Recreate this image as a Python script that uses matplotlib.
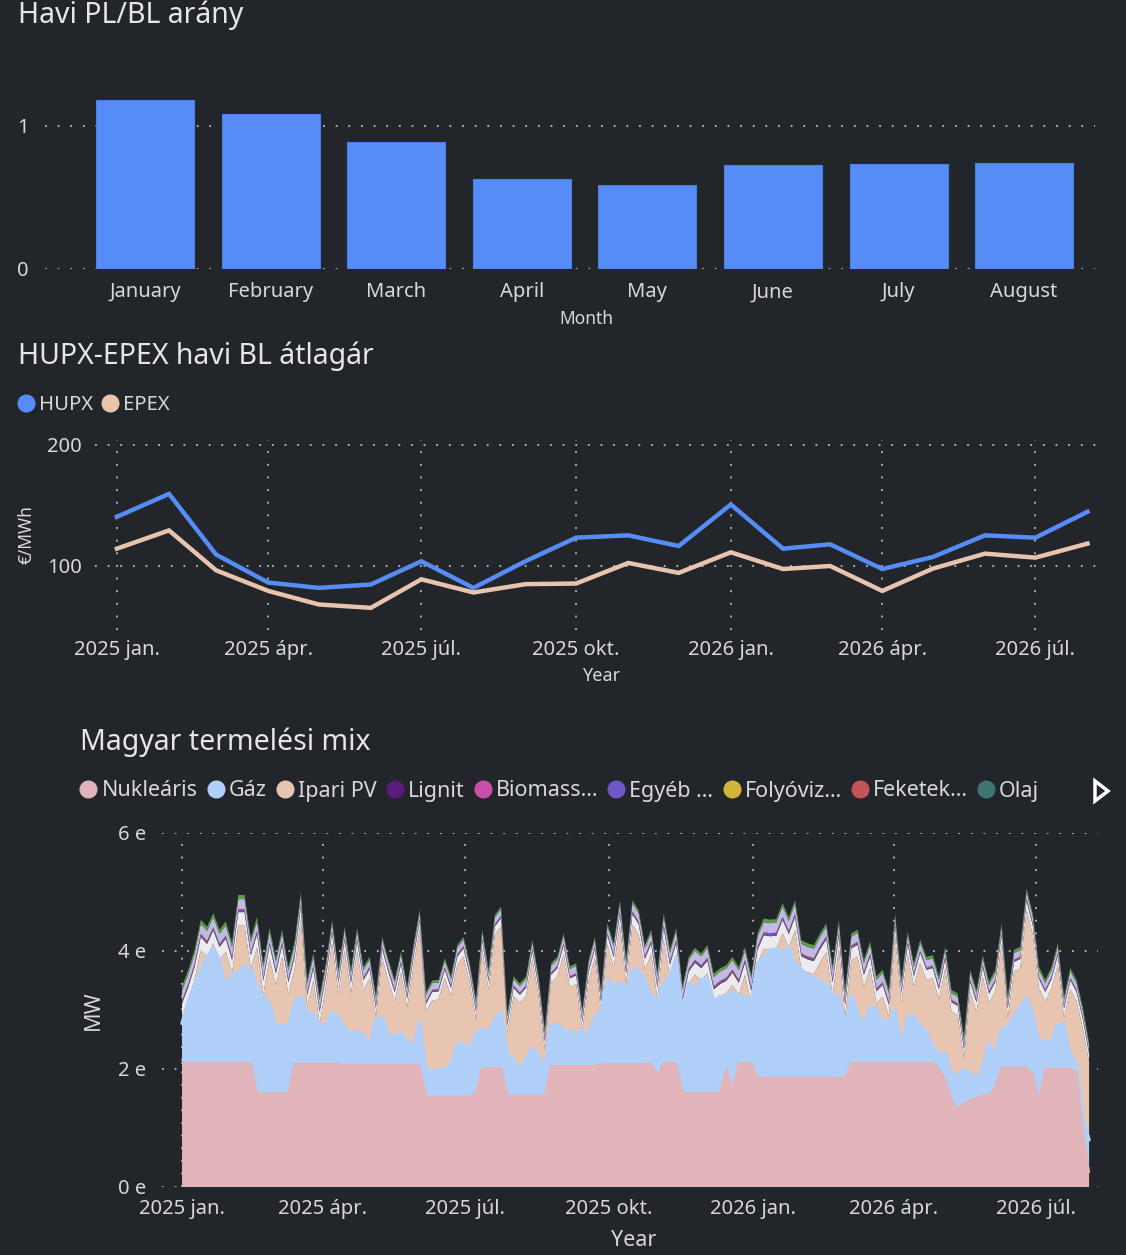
import numpy as np
import matplotlib
matplotlib.use('Agg')
import matplotlib.pyplot as plt
from matplotlib.lines import Line2D
from matplotlib.patches import Polygon

plt.rcParams['font.family'] = ['Noto Sans', 'DejaVu Sans']

# ---- data: Havi PL/BL arány ----
bar_months = ['January', 'February', 'March', 'April', 'May', 'June', 'July', 'August']
pl_bl_ratio = [1.18, 1.085, 0.887, 0.628, 0.587, 0.727, 0.734, 0.741]

# ---- data: HUPX-EPEX havi BL átlagár (EUR/MWh) ----
price_months = ['2025-01', '2025-02', '2025-03', '2025-04', '2025-05', '2025-06', '2025-07',
                '2025-08', '2025-09', '2025-10', '2025-11', '2025-12', '2026-01', '2026-02',
                '2026-03', '2026-04', '2026-05', '2026-06', '2026-07', '2026-08']
hupx = [140.6, 159.6, 109.4, 86.3, 81.9, 84.7, 103.9, 81.9, 104.0, 123.4,
        125.3, 116.5, 150.8, 114.3, 117.9, 97.5, 107.4, 125.3, 123.4, 144.8]
epex = [114.3, 129.4, 96.4, 79.4, 68.2, 65.4, 89.0, 78.1, 85.0, 85.5,
        102.5, 94.3, 111.3, 97.5, 100.0, 79.4, 97.8, 110.2, 106.9, 118.5]

quarter_ticks = ['2025-01-01', '2025-04-01', '2025-07-01', '2025-10-01',
                 '2026-01-01', '2026-04-01', '2026-07-01']
quarter_labels = ['2025 jan.', '2025 ápr.', '2025 júl.', '2025 okt.',
                  '2026 jan.', '2026 ápr.', '2026 júl.']

# ---- data: Magyar termelési mix (MW, sampled every 4 days from 2025-01-01) ----
mix_start = '2025-01-01'
mix_step_days = 4
nuclear = [
    2100, 2100, 2100, 2100, 2100, 2100, 2100, 2100, 2100, 2100,
    2100, 2100, 1590, 1590, 1590, 1590, 1590, 1590, 2090, 2090,
    2090, 2090, 2090, 2090, 2090, 2090, 2070, 2070, 2070, 2070,
    2070, 2070, 2070, 2070, 2070, 2070, 2070, 2070, 2050, 1530,
    1530, 1530, 1530, 1530, 1530, 1530, 1530, 1600, 2010, 2010,
    2010, 2010, 1550, 1550, 1550, 1550, 1550, 1550, 1550, 2050,
    2050, 2050, 2050, 2050, 2050, 2050, 2050, 2080, 2080, 2080,
    2080, 2080, 2080, 2080, 2080, 2100, 1900, 2100, 2100, 2100,
    1590, 1590, 1590, 1590, 1590, 1590, 1590, 2000, 1650, 2100,
    2100, 2100, 1850, 1850, 1850, 1850, 1850, 1850, 1850, 1850,
    1850, 1850, 1850, 1850, 1850, 1850, 1850, 2100, 2100, 2100,
    2100, 2100, 2100, 2100, 2100, 2100, 2100, 2100, 2100, 2100,
    2100, 2000, 1820, 1500, 1320, 1420, 1470, 1520, 1550, 1560,
    1700, 2020, 2020, 2020, 2020, 2020, 1900, 1450, 2000, 2000,
    2000, 2000, 2000, 1950, 950, 250]
# top of the gas layer (nuclear + gas)
gas_top = [
    2770, 3140, 3420, 3680, 3900, 4050, 3850, 3340, 3620, 3620,
    3740, 3700, 3400, 3230, 3110, 2720, 2750, 2720, 3140, 3230,
    2950, 2940, 2720, 2770, 2970, 2890, 2690, 2610, 2630, 2580,
    2400, 2850, 2860, 2580, 2550, 2610, 2460, 2380, 2800, 1980,
    1980, 1970, 2000, 2070, 2410, 2440, 2290, 2600, 2670, 2630,
    2830, 2970, 2270, 2150, 1980, 2180, 2350, 2240, 2000, 2750,
    2750, 2660, 2620, 2610, 2650, 2580, 2890, 2970, 3510, 3420,
    3450, 3340, 3680, 3680, 3510, 3240, 3180, 3450, 3570, 3890,
    2950, 3450, 3370, 3510, 3540, 3140, 3230, 3230, 3310, 3250,
    3230, 3110, 3790, 3880, 4020, 4030, 3990, 4060, 3780, 3690,
    3580, 3540, 3500, 3440, 3250, 3240, 2720, 3250, 2940, 2750,
    3050, 3030, 2760, 2830, 3000, 2380, 2890, 2890, 2750, 2610,
    2390, 2240, 2270, 1910, 1900, 1980, 1950, 1820, 2040, 2440,
    2210, 2660, 2720, 2890, 3060, 3200, 2940, 2440, 2490, 2460,
    2750, 2750, 2240, 2110, 1150, 800]
# top of the whole stack
total_top = [
    3400, 3680, 4020, 4530, 4100, 4640, 4160, 4500, 4100, 4950,
    4950, 4000, 4580, 3790, 4390, 3880, 4360, 3730, 4160, 5000,
    3510, 3960, 3230, 3790, 4530, 3680, 4410, 3680, 4390, 3730,
    3900, 3250, 4240, 3850, 3510, 3990, 3400, 4100, 4700, 3300,
    3500, 3510, 3880, 3570, 4100, 4240, 3790, 3170, 4360, 3680,
    4610, 4750, 2940, 3570, 3450, 3570, 4190, 3570, 2660, 3790,
    3900, 4300, 3740, 3790, 2770, 3850, 4240, 3230, 4470, 4130,
    4860, 3850, 4860, 4690, 4100, 4360, 3450, 4640, 3960, 4390,
    3050, 3730, 4050, 3820, 4100, 3400, 3510, 3760, 3900, 3480,
    4070, 3400, 4240, 4550, 4360, 4100, 4810, 4360, 4860, 3900,
    4130, 4100, 4300, 4470, 3510, 4530, 3340, 4300, 4360, 3850,
    4160, 3570, 3680, 3340, 4640, 3510, 4330, 3790, 4190, 3900,
    3930, 3570, 4070, 3340, 3280, 2550, 3680, 3340, 3930, 3480,
    3680, 4470, 3230, 4020, 4070, 5060, 4640, 3730, 3510, 3730,
    4130, 3230, 3710, 3510, 3050, 2450]

# small layers, monthly averages Jan 2025 .. Aug 2026
szel_m = [220, 230, 200, 170, 150, 140, 140, 140, 150, 180,
          200, 210, 230, 220, 200, 170, 160, 160, 160, 150]
lignit_m = [6, 6, 5, 4, 4, 4, 4, 4, 4, 5,
            5, 6, 6, 6, 5, 4, 4, 4, 4, 4]
biomassza_m = [12, 12, 12, 10, 10, 8, 8, 8, 10, 10,
               12, 12, 12, 12, 12, 10, 10, 8, 8, 8]
egyeb_m = [20, 20, 18, 15, 15, 15, 15, 15, 15, 18,
           20, 20, 20, 20, 18, 15, 15, 15, 15, 15]
folyoviz_m = [6, 6, 8, 10, 10, 8, 6, 5, 5, 5,
              6, 6, 6, 6, 8, 10, 10, 8, 6, 5]
feketek_m = [4, 4, 3, 3, 3, 3, 3, 3, 3, 3,
             4, 4, 4, 4, 3, 3, 3, 3, 3, 3]
olaj_m = [3, 3, 3, 2, 2, 2, 2, 2, 2, 3,
          3, 3, 3, 3, 3, 2, 2, 2, 2, 2]
tarozos_m = [170, 170, 150, 130, 120, 110, 110, 110, 120, 140,
             150, 160, 170, 160, 150, 120, 110, 110, 110, 100]
hulladek_m = [70, 70, 60, 50, 45, 45, 45, 45, 45, 50,
              50, 55, 60, 60, 55, 55, 55, 55, 55, 50]

legend_names = ['Nukleáris', 'Gáz', 'Ipari PV', 'Lignit', 'Biomass...', 'Egyéb ...',
                'Folyóviz...', 'Feketek...', 'Olaj']

# ---- style ----
BG = '#222529'
TEXT = '#e6e6e6'
TICK = '#d8d8d8'
BLUE = '#568cf5'
PEACH = '#e8c4ae'
C_NUC = '#e0b4b8'
C_GAS = '#b0d0fa'
C_PV = '#e8c5b0'
C_LIG = '#5c1a7a'
C_BIO = '#c94fa8'
C_EGY = '#7157c6'
C_FOLY = '#d3b43a'
C_FEK = '#c5545a'
C_OLAJ = '#3e7474'
C_SZEL = '#ececee'
C_TAR = '#c3b7e6'
C_HUL = '#5b9e48'
GRID = dict(color='#bdbdbd', linestyle=(0, (1, 6)), linewidth=1.3)
TITLE_SIZE = 20.5
TICK_SIZE = 14.5

W, H = 1126, 1255
fig = plt.figure(figsize=(W / 100, H / 100), dpi=100, facecolor=BG)


def add_axes_px(left, top, right, bottom):
    ax = fig.add_axes([left / W, 1 - bottom / H, (right - left) / W, (bottom - top) / H])
    ax.set_facecolor(BG)
    for s in ax.spines.values():
        s.set_visible(False)
    ax.set_axisbelow(True)
    return ax


def fig_text(x, y, s, **kw):
    kw.setdefault('color', TEXT)
    kw.setdefault('va', 'center')
    fig.text(x / W, 1 - y / H, s, **kw)


def days_since(dates, start='2025-01-01'):
    return (np.array(dates, dtype='datetime64[D]') - np.datetime64(start, 'D')).astype(int)


# ================= panel 1: bars =================
ax1 = add_axes_px(45, 60, 1095, 269)
pos = np.arange(len(bar_months))
ax1.bar(pos, pl_bl_ratio, width=0.78, color=BLUE, edgecolor='#4a7fe6', linewidth=0.8, zorder=3)
ax1.set_xlim(-0.796, 7.564)
ax1.set_ylim(0, 1.46)
ax1.set_yticks([0, 1], ['0', '1'])
ax1.set_xticks(pos, bar_months)
ax1.grid(axis='y', **GRID)
ax1.tick_params(length=0, labelsize=TICK_SIZE, labelcolor=TICK)
ax1.tick_params(axis='x', pad=9.5)
ax1.tick_params(axis='y', pad=12)
fig_text(18, 23, 'Havi PL/BL arány', fontsize=TITLE_SIZE, va='baseline')
fig_text(586, 319, 'Month', fontsize=12.5, ha='center', weight='semibold', color=TICK)

# ================= panel 2: lines =================
ax2 = add_axes_px(95, 440, 1105, 630)
px = days_since(price_months)
ax2.plot(px, hupx, color=BLUE, linewidth=3.2, solid_joinstyle='miter', zorder=3)
ax2.plot(px, epex, color=PEACH, linewidth=3.2, solid_joinstyle='miter', zorder=3)
ax2.set_xlim(-13, 587.4)
ax2.set_ylim(47.1, 204.1)
ax2.set_yticks([100, 200], ['100', '200'])
ax2.set_xticks(days_since(quarter_ticks), quarter_labels)
ax2.grid(**GRID)
ax2.tick_params(length=0, labelsize=TICK_SIZE, labelcolor=TICK)
ax2.tick_params(axis='x', pad=7.5)
ax2.tick_params(axis='y', pad=9.4)
fig_text(18, 364, 'HUPX-EPEX havi BL átlagár', fontsize=TITLE_SIZE, va='baseline')
fig_text(27, 535, '€/MWh', fontsize=12.5, ha='center', rotation=90, color=TICK)
fig_text(601, 676, 'Year', fontsize=13, ha='center', weight='semibold', color=TICK)
h2 = [Line2D([], [], marker='o', linestyle='', color=BLUE, markersize=12),
      Line2D([], [], marker='o', linestyle='', color=PEACH, markersize=12)]
fig.legend(h2, ['HUPX', 'EPEX'], loc='center left', bbox_to_anchor=(19 / W, 1 - 405 / H),
           ncol=2, frameon=False, fontsize=14.6, labelcolor=TICK, handlelength=0.7,
           handletextpad=0.3, columnspacing=0.45, borderaxespad=0, borderpad=0)

# ================= panel 3: stacked area =================
ax3 = add_axes_px(162, 833, 1098, 1187)
n = len(nuclear)
mix_dates = np.datetime64(mix_start, 'D') + np.arange(n) * mix_step_days
mx = days_since(mix_dates)
month_idx = (mix_dates.astype('datetime64[M]') - np.datetime64('2025-01', 'M')).astype(int)

nuc = np.array(nuclear, dtype=float)
gtop = np.array(gas_top, dtype=float)
gas = gtop - nuc
szel = np.array(szel_m, dtype=float)[month_idx]
lignit = np.array(lignit_m, dtype=float)[month_idx]
bio = np.array(biomassza_m, dtype=float)[month_idx]
egyeb = np.array(egyeb_m, dtype=float)[month_idx]
folyo = np.array(folyoviz_m, dtype=float)[month_idx]
fekete = np.array(feketek_m, dtype=float)[month_idx]
olaj = np.array(olaj_m, dtype=float)[month_idx]
tarozos = np.array(tarozos_m, dtype=float)[month_idx]
hulladek = np.array(hulladek_m, dtype=float)[month_idx]
upper = szel + lignit + bio + egyeb + folyo + fekete + olaj + tarozos + hulladek
pv = np.clip(np.array(total_top, dtype=float) - gtop - upper, 0, None)

layers = [nuc, gas, pv, szel, lignit, bio, egyeb, folyo, fekete, olaj, tarozos, hulladek]
colors = [C_NUC, C_GAS, C_PV, C_SZEL, C_LIG, C_BIO, C_EGY, C_FOLY, C_FEK, C_OLAJ, C_TAR, C_HUL]
ax3.stackplot(mx, *layers, colors=colors, linewidth=0, zorder=2)
ax3.plot(mx, gtop, color=C_GAS, linewidth=2.5, solid_capstyle='round', zorder=3)
ax3.plot(mx, nuc, color=C_NUC, linewidth=1.5, solid_capstyle='round', zorder=3)
ax3.set_xlim(-12.8, 585.7)
ax3.set_ylim(0, 6000)
ax3.set_yticks([0, 2000, 4000, 6000], ['0 e', '2 e', '4 e', '6 e'])
ax3.set_xticks(days_since(quarter_ticks), quarter_labels)
ax3.grid(**GRID)
ax3.tick_params(length=0, labelsize=TICK_SIZE, labelcolor=TICK)
ax3.tick_params(axis='x', pad=8.5)
ax3.tick_params(axis='y', pad=11.5)
fig_text(80, 750, 'Magyar termelési mix', fontsize=TITLE_SIZE, va='baseline')
fig_text(93, 1010, 'MW', fontsize=15.5, ha='center', rotation=90, weight='semibold', color=TICK)
fig_text(634, 1240, 'Year', fontsize=15.5, ha='center', weight='semibold', color=TICK)

h3 = [Line2D([], [], marker='o', linestyle='', color=c, markersize=12)
      for c in [C_NUC, C_GAS, C_PV, C_LIG, C_BIO, C_EGY, C_FOLY, C_FEK, C_OLAJ]]
fig.legend(h3, legend_names, loc='center left', bbox_to_anchor=(82 / W, 1 - 791 / H),
           ncol=9, frameon=False, fontsize=15.5, labelcolor=TICK, handlelength=0.6,
           handletextpad=0.3, columnspacing=0.55, borderaxespad=0, borderpad=0)

# legend scroll arrow
arrow = Polygon([[1095 / W, 1 - 781 / H], [1108 / W, 1 - 791 / H], [1095 / W, 1 - 801 / H]],
                closed=True, fill=False, edgecolor='white', linewidth=2.5,
                transform=fig.transFigure)
fig.add_artist(arrow)

fig.savefig('out.png', dpi=100, facecolor=BG)
